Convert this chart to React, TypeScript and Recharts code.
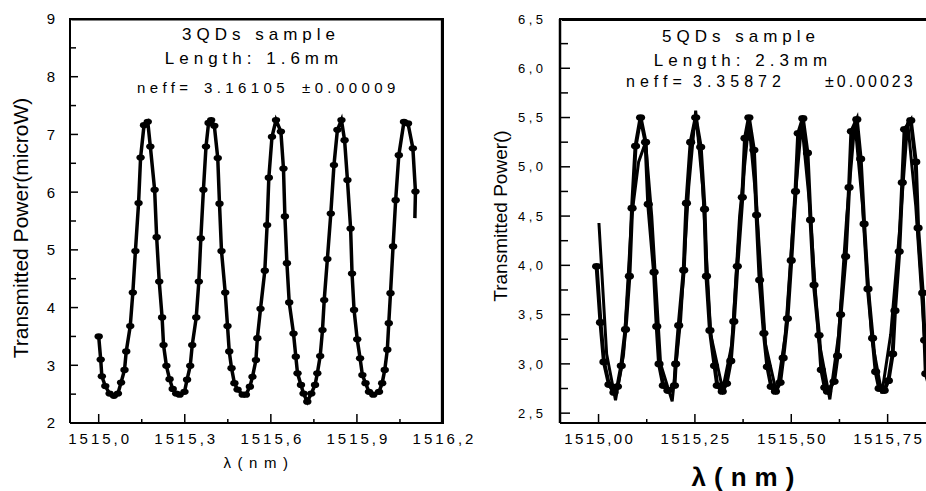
import { Line, LineChart, XAxis, YAxis } from 'recharts';

const FONT = 'Arial, "Liberation Sans", Helvetica, sans-serif';

// left panel: 3QDs sample, measured points (nm, microW)
const leftLambda = [
  1515.000, 1515.007, 1515.011, 1515.023, 1515.038, 1515.053, 1515.067, 1515.078, 1515.090, 1515.096,
  1515.110, 1515.119, 1515.128, 1515.139, 1515.146, 1515.158, 1515.171, 1515.180, 1515.195, 1515.202,
  1515.211, 1515.221, 1515.226, 1515.236, 1515.247, 1515.258, 1515.270, 1515.282, 1515.299, 1515.308,
  1515.319, 1515.326, 1515.340, 1515.349, 1515.356, 1515.365, 1515.374, 1515.383, 1515.392, 1515.403,
  1515.415, 1515.421, 1515.428, 1515.441, 1515.449, 1515.455, 1515.463, 1515.473, 1515.484, 1515.502,
  1515.513, 1515.527, 1515.536, 1515.548, 1515.553, 1515.564, 1515.579, 1515.587, 1515.593, 1515.604,
  1515.618, 1515.635, 1515.644, 1515.649, 1515.656, 1515.664, 1515.679, 1515.687, 1515.693, 1515.705,
  1515.714, 1515.727, 1515.741, 1515.754, 1515.762, 1515.772, 1515.780, 1515.786, 1515.797, 1515.809,
  1515.820, 1515.832, 1515.846, 1515.857, 1515.867, 1515.878, 1515.883, 1515.890, 1515.901, 1515.911,
  1515.919, 1515.930, 1515.942, 1515.957, 1515.977, 1515.988, 1515.997, 1516.006, 1516.011, 1516.017,
  1516.026, 1516.035, 1516.046, 1516.064, 1516.078, 1516.095, 1516.104, 1516.102,
];
const leftPower = [
  3.50, 3.10, 2.81, 2.64, 2.51, 2.47, 2.51, 2.70, 2.92, 3.24,
  3.68, 4.26, 4.98, 5.81, 6.60, 7.16, 7.22, 6.79, 6.04, 5.22,
  4.45, 3.83, 3.35, 2.99, 2.76, 2.59, 2.51, 2.49, 2.54, 2.75,
  2.99, 3.35, 3.83, 4.45, 5.20, 6.04, 6.79, 7.20, 7.25, 7.15,
  6.59, 5.80, 4.98, 4.26, 3.68, 3.24, 2.95, 2.69, 2.58, 2.49,
  2.49, 2.63, 2.80, 3.09, 3.47, 3.98, 4.64, 5.43, 6.25, 6.96,
  7.25, 7.05, 6.41, 5.58, 4.77, 4.09, 3.55, 3.15, 2.86, 2.66,
  2.51, 2.37, 2.51, 2.66, 2.86, 3.16, 3.61, 4.13, 4.84, 5.63,
  6.47, 7.08, 7.25, 6.90, 6.21, 5.37, 4.59, 3.96, 3.45, 3.12,
  2.83, 2.69, 2.54, 2.49, 2.54, 2.69, 2.92, 3.27, 3.73, 4.25,
  5.06, 5.86, 6.64, 7.22, 7.19, 6.76, 6.01, 5.55,
];

// right panel: 5QDs sample, measured points
const rightLambda = [
  1514.995, 1515.005, 1515.014, 1515.027, 1515.040, 1515.049, 1515.059, 1515.070, 1515.080, 1515.087,
  1515.096, 1515.109, 1515.122, 1515.129, 1515.144, 1515.151, 1515.157, 1515.168, 1515.180, 1515.197,
  1515.200, 1515.208, 1515.221, 1515.228, 1515.239, 1515.252, 1515.265, 1515.275, 1515.280, 1515.289,
  1515.301, 1515.308, 1515.321, 1515.332, 1515.343, 1515.351, 1515.360, 1515.373, 1515.380, 1515.390,
  1515.403, 1515.410, 1515.418, 1515.429, 1515.438, 1515.448, 1515.459, 1515.471, 1515.479, 1515.490,
  1515.500, 1515.511, 1515.518, 1515.530, 1515.542, 1515.550, 1515.559, 1515.572, 1515.578, 1515.587,
  1515.594, 1515.611, 1515.620, 1515.628, 1515.641, 1515.650, 1515.656, 1515.670, 1515.680, 1515.689,
  1515.699, 1515.711, 1515.719, 1515.728, 1515.741, 1515.752, 1515.763, 1515.769, 1515.780, 1515.788,
  1515.794, 1515.810, 1515.823, 1515.829, 1515.841, 1515.846, 1515.849, 1515.862, 1515.876, 1515.889,
];
const rightPower = [
  3.99, 3.42, 3.02, 2.79, 2.71, 2.77, 2.98, 3.35, 3.89, 4.58,
  5.21, 5.50, 5.25, 4.62, 3.93, 3.38, 3.00, 2.78, 2.73, 2.78,
  3.00, 3.39, 3.95, 4.63, 5.25, 5.50, 5.20, 4.57, 3.89, 3.34,
  2.98, 2.78, 2.72, 2.80, 3.03, 3.43, 3.99, 4.69, 5.29, 5.50,
  5.17, 4.51, 3.85, 3.31, 2.97, 2.77, 2.72, 2.81, 3.06, 3.46,
  4.05, 4.75, 5.34, 5.49, 5.14, 4.46, 3.80, 3.29, 2.94, 2.76,
  2.72, 2.82, 3.08, 3.50, 4.09, 4.79, 5.36, 5.48, 5.08, 4.42,
  3.76, 3.26, 2.92, 2.75, 2.73, 2.83, 3.10, 3.54, 4.14, 4.84,
  5.38, 5.47, 5.05, 4.38, 3.72, 3.24, 2.90, 2.72, 2.76, 3.05,
];

// right panel fit curve
const rightFitLambda = [
  1515.001, 1515.021, 1515.044, 1515.065, 1515.086, 1515.104, 1515.122, 1515.138, 1515.161, 1515.191,
  1515.213, 1515.234, 1515.252, 1515.270, 1515.291, 1515.322, 1515.346, 1515.366, 1515.390, 1515.410,
  1515.433, 1515.462, 1515.485, 1515.506, 1515.527, 1515.548, 1515.571, 1515.600, 1515.623, 1515.644,
  1515.665, 1515.685, 1515.709, 1515.735, 1515.758, 1515.782, 1515.802, 1515.823, 1515.846, 1515.870, 1515.890,
];
const rightFitPower = [
  4.43, 3.10, 2.63, 3.10, 4.50, 5.05, 5.25, 4.50, 3.00, 2.62,
  3.45, 4.80, 5.57, 4.80, 3.30, 2.74, 3.20, 4.50, 5.45, 4.60,
  3.20, 2.70, 3.30, 4.50, 5.45, 4.60, 3.25, 2.64, 3.30, 4.50,
  5.45, 4.60, 3.25, 2.70, 3.30, 4.40, 5.45, 4.60, 3.25, 2.70, 3.30,
];

// plot frame corners (top and right edges), just inside the plotted range
const leftFrameX = [1514.905, 1516.196, 1516.196];
const leftFrameY = [8.99, 8.99, 2.01];
const rightFrameX = [1514.905, 1515.996, 1515.996];
const rightFrameY = [6.49, 6.49, 2.41];

// axis ticks
const leftXTicks = [1515.0, 1515.15, 1515.3, 1515.45, 1515.6, 1515.75, 1515.9, 1516.05, 1516.2];
const leftXLabels = [1515.0, 1515.3, 1515.6, 1515.9, 1516.2];
const leftYTicks = [2, 2.5, 3, 3.5, 4, 4.5, 5, 5.5, 6, 6.5, 7, 7.5, 8, 8.5, 9];
const leftYLabels = [2, 3, 4, 5, 6, 7, 8, 9];
const rightXTicks = [1515.0, 1515.125, 1515.25, 1515.375, 1515.5, 1515.625, 1515.75, 1515.875, 1516.0];
const rightXLabels = [1515.0, 1515.25, 1515.5, 1515.75, 1516.0];
const rightYTicks = [2.5, 2.75, 3, 3.25, 3.5, 3.75, 4, 4.25, 4.5, 4.75, 5, 5.25, 5.5, 5.75, 6, 6.25, 6.5];
const rightYLabels = [2.5, 3, 3.5, 4, 4.5, 5, 5.5, 6, 6.5];

const leftData = leftLambda.map((x, i) => ({ x, y: leftPower[i] }));
const rightData = rightLambda.map((x, i) => ({ x, y: rightPower[i] }));
const rightFit = rightFitLambda.map((x, i) => ({ x, y: rightFitPower[i] }));
const leftFrame = leftFrameX.map((x, i) => ({ x, y: leftFrameY[i] }));
const rightFrame = rightFrameX.map((x, i) => ({ x, y: rightFrameY[i] }));

const has = (list: number[], v: number) => list.some((m) => Math.abs(m - v) < 1e-6);
const comma = (v: number, d: number) => v.toFixed(d).replace('.', ',');
const axisStroke = { stroke: '#000', strokeWidth: 2 };

const xTick = (labels: number[], digits: number, ls: number) => (p: any) => {
  const v = p.payload.value;
  const major = has(labels, v);
  return (
    <g key={`xt${p.index}`}>
      <line x1={p.x} x2={p.x} y1={p.y} y2={p.y - (major ? 9 : 4)} stroke="#000" strokeWidth={1.5} />
      {major && (
        <text x={p.x + ls / 2} y={p.y + 21} textAnchor="middle" fontSize={15} letterSpacing={ls} fontFamily={FONT} fill="#000">
          {comma(v, digits)}
        </text>
      )}
    </g>
  );
};

const yTick = (labels: number[], fmt: (v: number) => string, len: number[], gap: number, fs: number, ls: number) => (p: any) => {
  const v = p.payload.value;
  const major = has(labels, v);
  return (
    <g key={`yt${p.index}`}>
      <line x1={p.x} x2={p.x + (major ? len[0] : len[1])} y1={p.y} y2={p.y} stroke="#000" strokeWidth={1.5} />
      {major && (
        <text x={p.x - gap} y={p.y + fs * 0.36} textAnchor="end" fontSize={fs} letterSpacing={ls} fontFamily={FONT} fill="#000">
          {fmt(v)}
        </text>
      )}
    </g>
  );
};

const ellipseDot = (rx: number, ry: number, skip = -1) => (p: any) =>
  p.index === skip ? <g key={`d${p.index}`} /> : <ellipse key={`d${p.index}`} cx={p.cx} cy={p.cy} rx={rx} ry={ry} fill="#000" />;

function Txt({ x, y, size, ls = 0, bold, center = true, rotate, children }: {
  x: number; y: number; size: number; ls?: number; bold?: boolean; center?: boolean; rotate?: boolean; children: React.ReactNode;
}) {
  const tr = center ? `translate(-50%,-50%)${rotate ? ' rotate(-90deg)' : ''}` : 'translateY(-50%)';
  return (
    <div style={{
      position: 'absolute', left: x, top: y, transform: tr, fontFamily: FONT, fontSize: size, letterSpacing: ls,
      fontWeight: bold ? 'bold' : 'normal', lineHeight: 1, whiteSpace: 'pre', color: '#000',
    }}>{children}</div>
  );
}

// fallback frame edges around the plot rectangles (same geometry as the chart margins)
const edge = (left: number, top: number, width: number, height: number) => (
  <div style={{ position: 'absolute', left, top, width, height, background: '#000' }} />
);

export default function App() {
  return (
    <div style={{ position: 'absolute', left: 0, top: 0, width: 926, height: 491, overflow: 'hidden', background: '#fff' }}>
      <div style={{ position: 'absolute', left: 0, top: 0 }}>
        <LineChart width={480} height={491} data={leftData} margin={{ top: 19, right: 37, bottom: 0, left: 0 }}>
          <XAxis dataKey="x" type="number" domain={[1514.9, 1516.2]} allowDataOverflow ticks={leftXTicks} interval={0}
            height={68} tickSize={0} tickMargin={0} tickLine={false} axisLine={axisStroke}
            tick={xTick(leftXLabels, 1, 3)} />
          <YAxis type="number" domain={[2, 9]} allowDataOverflow ticks={leftYTicks} interval={0} width={70}
            tickSize={0} tickMargin={0} tickLine={false} axisLine={axisStroke}
            tick={yTick(leftYLabels, (v) => String(v), [8, 6], 15, 15, 0)} />
          <Line data={leftFrame} dataKey="y" type="linear" stroke="#000" strokeWidth={2} dot={false} isAnimationActive={false} />
          <Line dataKey="y" type="linear" stroke="#000" strokeWidth={3.5} dot={ellipseDot(4.2, 3.1, leftData.length - 1)}
            isAnimationActive={false} />
        </LineChart>
      </div>

      <div style={{ position: 'absolute', left: 463, top: 0 }}>
        <LineChart width={521} height={491} margin={{ top: 19, right: 0, bottom: 0, left: 0 }}>
          <XAxis dataKey="x" type="number" domain={[1514.9, 1516.0]} allowDataOverflow ticks={rightXTicks} interval={0}
            height={68} tickSize={0} tickMargin={0} tickLine={false} axisLine={axisStroke}
            tick={xTick(rightXLabels, 2, 2.4)} />
          <YAxis type="number" domain={[2.4, 6.5]} allowDataOverflow ticks={rightYTicks} interval={0} width={97}
            tickSize={0} tickMargin={0} tickLine={false} axisLine={{ stroke: '#000', strokeWidth: 2.5 }}
            tick={yTick(rightYLabels, (v) => comma(v, 1), [10, 8], 13.5, 13, 3.5)} />
          <Line data={rightFrame} dataKey="y" type="linear" stroke="#000" strokeWidth={2} dot={false} isAnimationActive={false} />
          <Line data={rightFit} dataKey="y" type="linear" stroke="#000" strokeWidth={3} dot={false} isAnimationActive={false} />
          <Line data={rightData} dataKey="y" type="linear" stroke="#000" strokeWidth={4} dot={ellipseDot(4.6, 3.4)}
            isAnimationActive={false} />
        </LineChart>
      </div>

      {edge(69, 18, 375, 2)}
      {edge(442, 18, 2, 406)}
      {edge(559, 18, 367, 2)}

      {/* left annotations */}
      <Txt x={261} y={34} size={17} ls={5}>3QDs sample</Txt>
      <Txt x={254} y={58} size={17} ls={5}>Length: 1.6mm</Txt>
      <Txt x={137} y={87} size={15} ls={4.4} center={false}>neff=</Txt>
      <Txt x={204} y={87} size={15} ls={4.4} center={false}>3.16105</Txt>
      <Txt x={302} y={87} size={15} ls={4.4} center={false}>±0.00009</Txt>
      <Txt x={20} y={228} size={21} rotate>Transmitted Power(microW)</Txt>
      <Txt x={259} y={462} size={15} ls={6.5}>λ(nm)</Txt>

      {/* right annotations */}
      <Txt x={741} y={36} size={17} ls={5}>5QDs sample</Txt>
      <Txt x={743} y={60} size={17} ls={5}>Length: 2.3mm</Txt>
      <Txt x={626} y={82} size={16} ls={5} center={false}>neff=</Txt>
      <Txt x={693} y={82} size={16} ls={5} center={false}>3.35872</Txt>
      <Txt x={825} y={82} size={16} ls={3} center={false}>±0.00023</Txt>
      <Txt x={500} y={216} size={19} rotate>Transmitted Power()</Txt>
      <Txt x={747} y={477} size={26} ls={8} bold>λ(nm)</Txt>
    </div>
  );
}
